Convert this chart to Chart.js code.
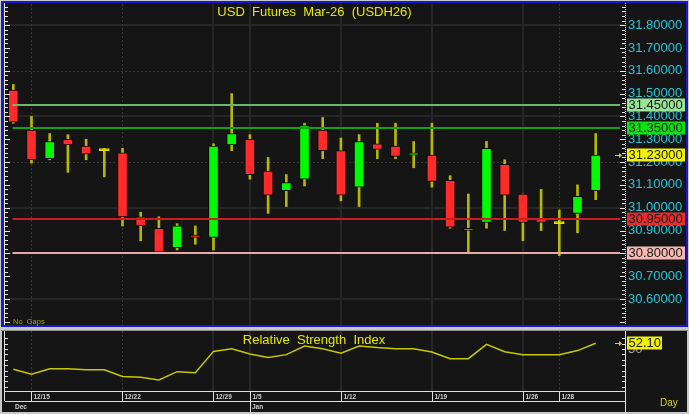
<!DOCTYPE html>
<html>
<head>
<meta charset="utf-8">
<script src="https://cdn.jsdelivr.net/npm/chart.js@4.4.1/dist/chart.umd.min.js"></script>
<style>
  body { margin: 0; background: #c8c8c8; width: 689px; height: 414px; overflow: hidden; position: relative; }
  #price-box { position: absolute; left: 0; top: 0; width: 689px; height: 328px; }
  #rsi-box { position: absolute; left: 0; top: 328px; width: 689px; height: 86px; }
  canvas { display: block; }
</style>
</head>
<body>
<div id="price-box"><canvas id="price-chart" width="689" height="328"></canvas></div>
<div id="rsi-box"><canvas id="rsi-chart" width="689" height="86"></canvas></div>
<script>
// daily bars, USDH26
const dates = ['12/12','12/15','12/16','12/17','12/18','12/19','12/22','12/23','12/24','12/25','12/26',
  '12/29','12/30','1/5','1/6','1/7','1/8','1/9','1/12','1/13','1/14','1/15','1/16',
  '1/19','1/20','1/21','1/22','1/23','1/26','1/27','1/28','1/29','1/30'];
const opens  = [31.515, 31.34, 31.215, 31.30, 31.27, 31.25, 31.24, 30.96, 30.91, 30.825, 30.88,
  30.87, 31.275, 31.30, 31.16, 31.075, 31.125, 31.34, 31.25, 31.09, 31.28, 31.27,
  31.23, 31.23, 31.12, 30.90, 30.935, 31.19, 31.06, 30.95, 30.93, 30.975, 31.075];
const highs  = [31.54, 31.40, 31.325, 31.32, 31.30, 31.26, 31.26, 30.98, 30.96, 30.93, 30.92,
  31.28, 31.50, 31.32, 31.22, 31.145, 31.37, 31.395, 31.305, 31.32, 31.37, 31.37,
  31.29, 31.37, 31.14, 31.06, 31.29, 31.21, 31.06, 31.08, 30.99, 31.10, 31.325];
const lows   = [31.37, 31.195, 31.21, 31.155, 31.21, 31.135, 30.92, 30.855, 30.80, 30.815, 30.84,
  30.815, 31.25, 31.125, 30.975, 31.005, 31.095, 31.215, 31.03, 31.005, 31.215, 31.215,
  31.175, 31.09, 30.91, 30.80, 30.91, 30.90, 30.855, 30.90, 30.79, 30.89, 31.035];
const closes = [31.375, 31.21, 31.29, 31.275, 31.235, 31.25, 30.96, 30.92, 30.805, 30.92, 30.87,
  31.27, 31.325, 31.145, 31.055, 31.11, 31.36, 31.25, 31.055, 31.29, 31.255, 31.225,
  31.24, 31.115, 30.915, 30.91, 31.26, 31.055, 30.935, 30.935, 30.93, 31.05, 31.23];
const rsiValues = [42.5, 40.7, 42.7, 42.7, 42.3, 42.3, 39.8, 39.5, 38.5, 41.6, 41.2,
  49.1, 50.1, 48.1, 46.8, 47.9, 51.1, 50.1, 48.4, 51.1, 50.5, 50.1,
  50.1, 48.9, 46.4, 46.4, 51.7, 49.0, 47.9, 47.9, 47.9, 49.4, 52.1];

const priceTicks = [30.6, 30.7, 30.8, 30.9, 31.0, 31.1, 31.2, 31.3, 31.4, 31.5, 31.6, 31.7, 31.8];
const rsiTicks = [50];
const weekLabels = ['12/15', '12/22', '12/29', '1/5', '1/12', '1/19', '1/26', '1/28'];
const dottedWeeks = ['12/15', '12/22', '1/28'];
const monthLabels = ['Dec', 'Jan'];
const monthStarts = ['12/12', '1/5'];
const levelValues = [31.45, 31.35, 30.95, 30.80];
const levelLineColors = ['#6cb86c', '#14a014', '#c81e1e', '#e8aaa2'];
const levelBadgeColors = ['#96e696', '#10e010', '#e62c2c', '#f6b8b0'];
const lastPrice = 31.23;
const titleText = 'USD  Futures  Mar-26  (USDH26)';
const rsiTitle = 'Relative  Strength  Index';

const idx = dates.map((d, i) => i);
const X_MIN = -0.456, X_MAX = 33.555;

Chart.defaults.font.family = 'Arial';

function candleColor(i) {
  if (closes[i] > opens[i]) return '#00fa00';
  if (closes[i] < opens[i]) return '#ff2b2b';
  return '#e0e000';
}

function line(ctx, x1, y1, x2, y2) {
  ctx.beginPath(); ctx.moveTo(x1, y1); ctx.lineTo(x2, y2); ctx.stroke();
}

function badge(ctx, yPix, text, bg, x0, w) {
  const top = Math.round(yPix) - 6.5;
  ctx.fillStyle = bg;
  ctx.fillRect(x0, top, w, 13);
  ctx.fillStyle = '#1a1a1a';
  ctx.font = '13px Arial';
  ctx.textAlign = 'left';
  ctx.textBaseline = 'middle';
  ctx.fillText(text, x0 + 1.5, top + 7);
}

function arrow(ctx, yPix) {
  const yy = Math.round(yPix) + 0.5;
  ctx.strokeStyle = '#d8d800';
  ctx.fillStyle = '#d8d800';
  ctx.lineWidth = 1;
  line(ctx, 615, yy, 619, yy);
  ctx.beginPath(); ctx.moveTo(619, yy - 2.5); ctx.lineTo(622, yy); ctx.lineTo(619, yy + 2.5); ctx.fill();
}

function weekGrid(ctx, x, top, bottom) {
  weekLabels.forEach(w => {
    const px = Math.round(x.getPixelForValue(dates.indexOf(w)));
    const dotted = dottedWeeks.includes(w);
    ctx.setLineDash(dotted ? [2, 2] : []);
    ctx.strokeStyle = dotted ? '#383838' : '#262626';
    ctx.lineWidth = dotted ? 1 : 2;
    line(ctx, px + (dotted ? 0.5 : 0), top, px + (dotted ? 0.5 : 0), bottom);
  });
  ctx.setLineDash([]);
}

const pricePanel = {
  id: 'pricePanel',
  beforeDraw(chart) {
    const {ctx, chartArea: a, scales: {x, y}} = chart;
    ctx.save();
    ctx.fillStyle = '#c8c8c8'; ctx.fillRect(0, 0, chart.width, chart.height);
    ctx.fillStyle = '#1818d0'; ctx.fillRect(1, 1, 687, 326);
    ctx.fillStyle = '#151515'; ctx.fillRect(4, 3, 682, 322);
    // horizontal grid every 0.2, alternating solid / dotted
    priceTicks.filter((v, k) => k % 2 === 0).reverse().forEach((v, k) => {
      const py = Math.round(y.getPixelForValue(v));
      const dotted = k % 2 === 1;
      ctx.setLineDash(dotted ? [2, 2] : []);
      ctx.strokeStyle = dotted ? '#383838' : '#262626';
      ctx.lineWidth = dotted ? 1 : 2;
      line(ctx, a.left, py + (dotted ? 0.5 : 0), a.right, py + (dotted ? 0.5 : 0));
    });
    ctx.setLineDash([]);
    weekGrid(ctx, x, a.top, a.bottom);
    ctx.restore();
  },
  afterDatasetsDraw(chart) {
    const {ctx, chartArea: a, scales: {y}} = chart;
    ctx.save();
    ctx.lineWidth = 2;
    levelValues.forEach((v, k) => {
      const py = Math.round(y.getPixelForValue(v));
      ctx.strokeStyle = levelLineColors[k];
      line(ctx, a.left + 7.5, py, a.right - 4, py);
    });
    ctx.restore();
  },
  afterDraw(chart) {
    const {ctx, chartArea: a, scales: {y}} = chart;
    ctx.save();
    // axis lines and tick marks on both sides
    ctx.strokeStyle = '#e8e8e8';
    ctx.lineWidth = 1;
    line(ctx, 4.5, 3, 4.5, 325);
    ctx.setLineDash([1, 1]);
    line(ctx, a.right + 1.5, 3, a.right + 1.5, 325);
    ctx.setLineDash([]);
    for (let c = 3050; c <= 3188; c += 2) {
      const py = Math.round(y.getPixelForValue(c / 100)) + 0.5;
      const major = c % 10 === 0;
      line(ctx, 5, py, major ? 10 : 8, py);
      line(ctx, a.right + 1, py, a.right - (major ? 4 : 2), py);
    }
    // level and last price badges
    levelValues.forEach((v, k) => badge(ctx, y.getPixelForValue(v), v.toFixed(5), levelBadgeColors[k], 627, 58));
    badge(ctx, y.getPixelForValue(lastPrice), lastPrice.toFixed(5), '#f2f200', 627, 58);
    arrow(ctx, y.getPixelForValue(lastPrice));
    // title and footnote
    ctx.fillStyle = '#e6e600';
    ctx.font = '13px Arial';
    ctx.textAlign = 'center';
    ctx.textBaseline = 'middle';
    ctx.fillText(titleText, 314.5, 12);
    ctx.fillStyle = '#a4a400';
    ctx.font = '7.5px Arial';
    ctx.textAlign = 'left';
    ctx.fillText('No  Gaps', 13, 321.5);
    ctx.restore();
  }
};

new Chart(document.getElementById('price-chart').getContext('2d'), {
  type: 'bar',
  data: {
    datasets: [{
      label: 'Wick',
      data: idx.map(i => ({x: i, y: [lows[i], highs[i]]})),
      backgroundColor: '#b8b800',
      barThickness: 2,
      grouped: false,
      order: 2
    }, {
      label: 'Body',
      data: idx.map(i => ({x: i, y: [opens[i], closes[i]]})),
      backgroundColor: c => candleColor(c.dataIndex),
      borderColor: c => opens[c.dataIndex] === closes[c.dataIndex] ? '#e0e000' : '#0a0a0a',
      borderWidth: 1,
      borderSkipped: false,
      barThickness: 10,
      minBarLength: 2,
      grouped: false,
      order: 1
    }]
  },
  options: {
    responsive: false,
    animation: false,
    devicePixelRatio: 1,
    layout: { padding: { left: 5, top: 4, right: 0, bottom: 3 } },
    plugins: { legend: { display: false }, tooltip: { enabled: false } },
    scales: {
      x: { type: 'linear', min: X_MIN, max: X_MAX, display: false, offset: false },
      y: {
        position: 'right',
        min: 30.486,
        max: 31.8925,
        afterBuildTicks: s => { s.ticks = priceTicks.map(v => ({value: v})); },
        afterFit: s => { s.width = 65; s.paddingTop = 0; s.paddingBottom = 0; s.paddingLeft = 0; s.paddingRight = 0; },
        grid: { display: false, drawTicks: false },
        border: { display: false },
        ticks: { color: '#1ec8dc', font: { size: 13 }, padding: 4, autoSkip: false, callback: v => v.toFixed(5) }
      }
    }
  },
  plugins: [pricePanel]
});

const rsiPanel = {
  id: 'rsiPanel',
  beforeDraw(chart) {
    const {ctx, chartArea: a, scales: {x}} = chart;
    ctx.save();
    ctx.fillStyle = '#c8c8c8'; ctx.fillRect(0, 0, chart.width, chart.height);
    ctx.fillStyle = '#8c8c8c'; ctx.fillRect(1, 2, 687, 1);
    ctx.fillStyle = '#151515'; ctx.fillRect(2, 3, 685, 81);
    weekGrid(ctx, x, a.top - 2, a.bottom);
    ctx.restore();
  },
  afterDraw(chart) {
    const {ctx, chartArea: a, scales: {x, y}} = chart;
    ctx.save();
    ctx.strokeStyle = '#e0e0e0';
    ctx.lineWidth = 1;
    line(ctx, 4.5, 3, 4.5, a.bottom + 10);
    line(ctx, a.right + 1.5, 3, a.right + 1.5, 86);
    for (let v = 36; v <= 55; v += 2) {
      const py = Math.round(y.getPixelForValue(v)) + 0.5;
      line(ctx, 5, py, 8, py);
      line(ctx, a.right + 1, py, a.right - 2, py);
    }
    // date rows
    const r1 = a.bottom + 0.5, r2 = a.bottom + 10.5;
    line(ctx, 5, r1, a.right + 1, r1);
    line(ctx, 5, r2, a.right + 1, r2);
    ctx.fillStyle = '#cfcfcf';
    ctx.font = 'bold 6.5px Arial';
    ctx.textAlign = 'left';
    ctx.textBaseline = 'middle';
    weekLabels.forEach(w => {
      const px = Math.round(x.getPixelForValue(dates.indexOf(w))) + 0.5;
      const isMonth = monthStarts.includes(w);
      line(ctx, px, r1, px, isMonth ? 84 : r2);
      ctx.fillText(w, px + 2, r1 + 5.5);
    });
    monthLabels.forEach((m, k) => {
      const px = Math.round(x.getPixelForValue(dates.indexOf(monthStarts[k])));
      ctx.fillText(m, Math.max(px + 2, 14), r2 + 6);
    });
    // last value badge
    const last = rsiValues[rsiValues.length - 1];
    badge(ctx, y.getPixelForValue(last), last.toFixed(2), '#f2f200', 627, 35);
    arrow(ctx, y.getPixelForValue(last));
    ctx.fillStyle = '#e6e600';
    ctx.font = '13px Arial';
    ctx.textAlign = 'center';
    ctx.fillText(rsiTitle, 314, 12);
    ctx.fillStyle = '#d8d800';
    ctx.font = '10px Arial';
    ctx.textAlign = 'left';
    ctx.fillText('Day', 660, 75);
    ctx.restore();
  }
};

new Chart(document.getElementById('rsi-chart').getContext('2d'), {
  type: 'line',
  data: {
    datasets: [{
      label: 'RSI',
      data: idx.map(i => ({x: i, y: rsiValues[i]})),
      borderColor: '#c8c800',
      borderWidth: 1.5,
      pointRadius: 0,
      tension: 0
    }]
  },
  options: {
    responsive: false,
    animation: false,
    devicePixelRatio: 1,
    layout: { padding: { left: 5, top: 5, right: 0, bottom: 23 } },
    plugins: { legend: { display: false }, tooltip: { enabled: false } },
    scales: {
      x: { type: 'linear', min: X_MIN, max: X_MAX, display: false },
      y: {
        position: 'right',
        min: 34.45,
        max: 55.9,
        afterBuildTicks: s => { s.ticks = rsiTicks.map(v => ({value: v})); },
        afterFit: s => { s.width = 65; s.paddingTop = 0; s.paddingBottom = 0; s.paddingLeft = 0; s.paddingRight = 0; },
        grid: { display: false, drawTicks: false },
        border: { display: false },
        ticks: { color: '#a8a8a8', font: { size: 13 }, padding: 4, callback: v => String(v) }
      }
    }
  },
  plugins: [rsiPanel]
});
</script>
</body>
</html>
